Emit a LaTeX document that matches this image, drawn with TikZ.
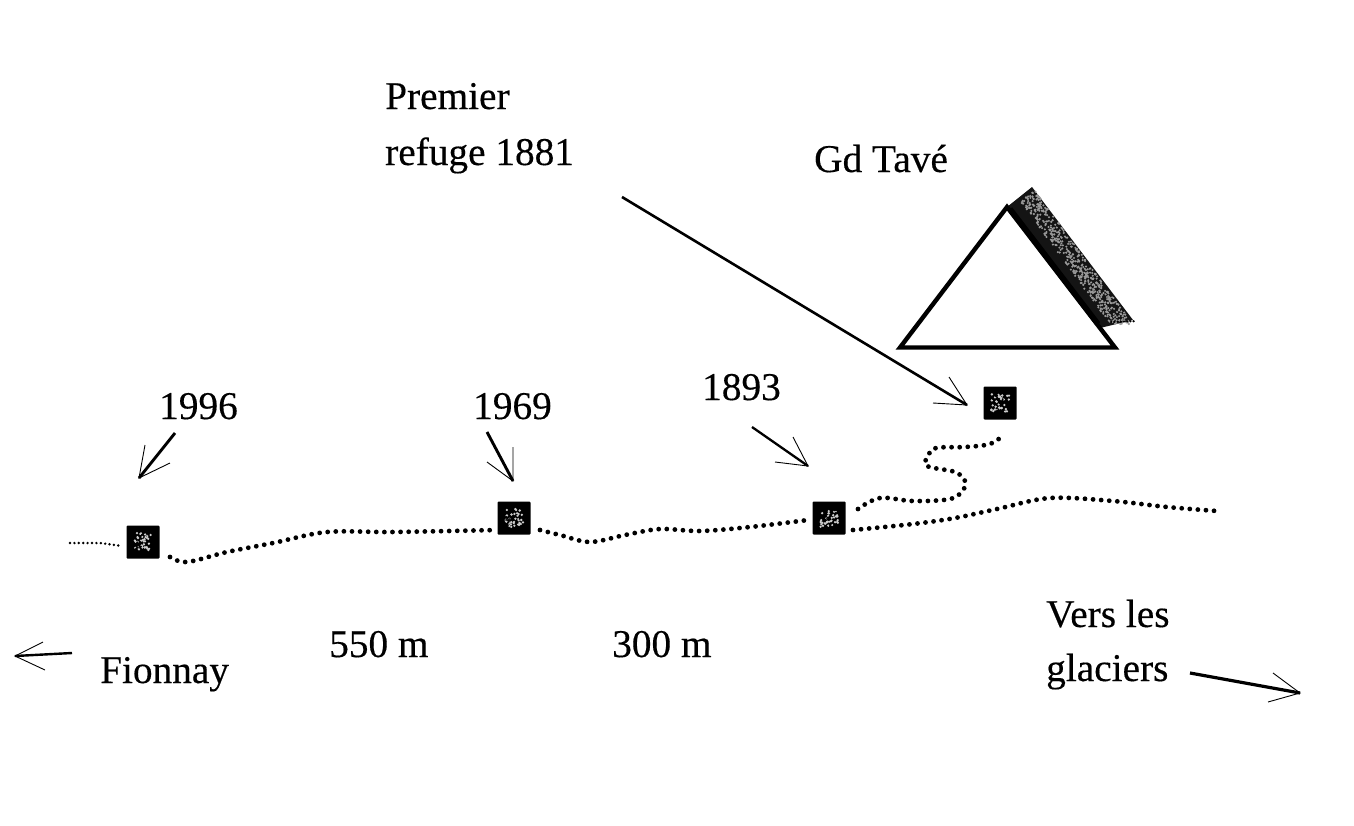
\documentclass[tikz,border=0pt]{standalone}
\usepackage{fontspec}
\setmainfont{Liberation Serif}[FakeBold=0.35]
\begin{document}
\begin{tikzpicture}[x=1pt,y=-1pt,
  lbl/.style={inner sep=0pt,anchor=base west,font=\fontsize{39.3}{46}\selectfont,text=black,align=left},
  hut/.style={fill=black,minimum size=33pt,inner sep=0pt,rounded corners=1pt},
  shaft/.style={line width=2.9pt,black},
  barb/.style={line width=0.9pt,black,line join=miter},
  trail/.style={line width=4.8pt,line cap=round,dash pattern=on 0pt off 8.1pt,black},
  thintrail/.style={line width=2.7pt,line cap=round,dash pattern=on 0pt off 4.4pt,black}]
\useasboundingbox (0,0) rectangle (1354,825);
\fill[white] (0,0) rectangle (1354,825);
% texts
\node[lbl] (t1) at (385,109) {Premier};
\node[lbl] (t2) at (385,165) {refuge 1881};
\node[lbl] (t3) at (814,172) {Gd Tavé};
\node[lbl] (t4) at (159,419) {1996};
\node[lbl] (t5) at (473,419) {1969};
\node[lbl] (t6) at (702,400) {1893};
\node[lbl] (t7) at (329,657) {550 m};
\node[lbl] (t8) at (612,657) {300 m};
\node[lbl] (t9) at (100,683) {Fionnay};
\node[lbl] (t10) at (1046,627) {Vers les};
\node[lbl] (t11) at (1046,681) {glaciers};
% huts
\node[hut] (h1) at (143,542) {};
\node[hut] (h2) at (514,518) {};
\node[hut] (h3) at (829,518) {};
\node[hut] (h4) at (1000,403) {};
\pgfmathsetseed{42}
\foreach \h in {h1,h2,h3,h4}{
  \foreach \i in {1,...,34}{
    \pgfmathsetmacro{\dx}{rand*9}
    \pgfmathsetmacro{\dy}{rand*9}
    \fill[white!80!black] ([xshift=\dx pt,yshift=\dy pt]\h.center) circle (1.3pt);
  }
  \foreach \i in {1,...,10}{
    \pgfmathsetmacro{\dx}{rand*8}
    \pgfmathsetmacro{\dy}{rand*8}
    \fill[black] ([xshift=\dx pt,yshift=\dy pt]\h.center) circle (1.1pt);
  }
}
% mountain
\fill[black!92] (1007,207) -- (1032,187) -- (1133,320) -- (1100,328) -- cycle;
\foreach \i in {1,...,520}{
  \pgfmathsetmacro{\u}{0.02+0.98*rnd}
  \pgfmathsetmacro{\v}{0.3+0.7*rnd}
  \fill[white!60!black] ({1013+\u*87+\v*(19+\u*14)},{204+\u*120-\v*(17-\u*17)}) circle (1.15pt);
}
\foreach \i in {1,...,8}{
  \fill[black] ({1108+\i*3.2},{322-0.1*\i}) circle (1.2pt);
}
\node[inner sep=0pt] (peak) at (1007,207) {};
\coordinate (ml) at (900,347.5);
\coordinate (mr) at (1115,347.5);
\draw[line width=4.4pt,line join=miter,fill=white] (1007,207) -- (ml) -- (mr) -- cycle;
\draw[line width=5.5pt] (1010,209) -- (1098,324);
% trails
\coordinate (a0) at (70,543);
\draw[thintrail] (a0) -- (100,543) -- (122,546);
\draw[trail] plot[smooth,tension=0.55] coordinates {(170,557) (187,562) (227,552) (273,543) (327,532) (393,532) (497,530)};
\draw[trail] plot[smooth,tension=0.55] coordinates {(540,530) (560,535) (590,542) (625,535) (660,529) (700,531) (750,527) (808,520)};
\draw[trail] plot[smooth,tension=0.55] coordinates {(853,530) (913,524) (955,518) (997,509) (1050,498) (1113,501) (1167,507) (1217,511)};
\draw[trail] plot[smooth,tension=0.6] coordinates {(858,509) (880,498) (913,501) (950,499) (963,490) (965,481) (955,472) (927,466) (928,456) (936,448) (965,447) (990,444) (1002,436)};
% arrows
\coordinate (s1) at (175,433); \coordinate (e1) at (139,478);
\draw[shaft] (s1) -- (e1);
\draw[barb] (145,445) -- (e1) -- (170,463);
\coordinate (s2) at (487,432); \coordinate (e2) at (513,481);
\draw[shaft] (s2) -- (e2);
\draw[barb] (513,447) -- (e2) -- (487,462);
\coordinate (s3) at (752,427); \coordinate (e3) at (808,466);
\draw[shaft,line width=2.3pt] (s3) -- (e3);
\draw[barb] (793,437) -- (e3) -- (775,462);
\coordinate (s4) at (622,197); \coordinate (e4) at (967,405);
\draw[shaft,line width=2.6pt] (s4) -- (e4);
\draw[barb] (949,377) -- (e4) -- (933,403);
\coordinate (s5) at (72,653); \coordinate (e5) at (15,656);
\draw[shaft,line width=2.4pt] (s5) -- (e5);
\draw[barb] (43,642) -- (e5) -- (45,670);
\coordinate (s6) at (1190,673); \coordinate (e6) at (1300,693);
\draw[shaft,line width=3.2pt] (s6) -- (e6);
\draw[barb] (1273,673) -- (e6) -- (1268,702);
\end{tikzpicture}
\end{document}
